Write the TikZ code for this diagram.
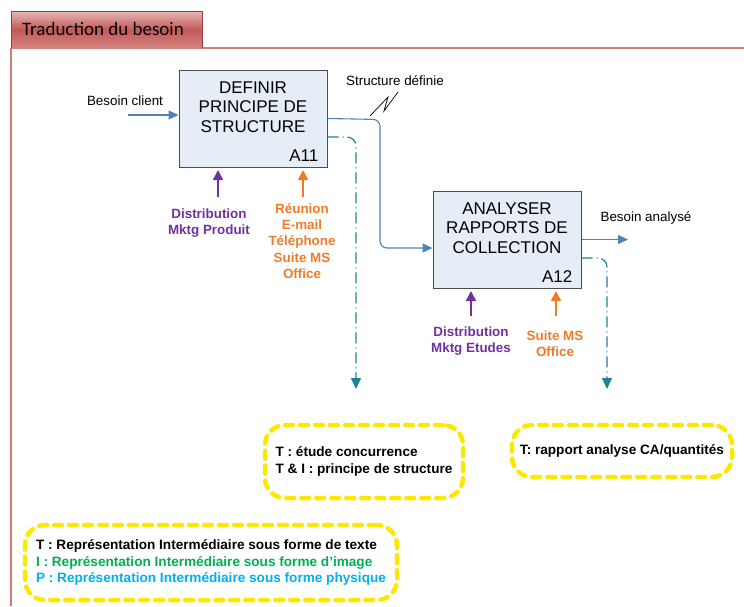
\documentclass[tikz,border=0pt]{standalone}
\usepackage{fontspec}
\setmainfont{Liberation Sans}
\newfontfamily\tabfont{Carlito}
\usetikzlibrary{arrows.meta}
\definecolor{idefblue}{RGB}{79,129,189}
\definecolor{boxfill}{RGB}{230,237,246}
\definecolor{frred}{RGB}{192,80,77}
\definecolor{mktgpurple}{RGB}{112,48,160}
\definecolor{toolorange}{RGB}{240,122,40}
\definecolor{outteal}{RGB}{30,130,152}
\definecolor{noteyellow}{RGB}{255,232,0}
\definecolor{repgreen}{RGB}{0,176,80}
\definecolor{repcyan}{RGB}{0,176,240}
\tikzset{
  activity/.style={draw=black!70, line width=1pt, fill=boxfill, minimum width=148pt, minimum height=97pt},
  acttext/.style={align=center, font=\fontsize{17}{19.5}\selectfont},
  flow/.style={idefblue, line width=1.1pt, -{Triangle[length=10pt,width=9pt]}},
  result/.style={outteal, line width=1.2pt, dash pattern=on 11pt off 4pt on 1pt off 4pt, rounded corners=9pt, -{Triangle[length=11pt,width=10pt]}},
  mech/.style={line width=1.6pt, -{Triangle[length=10pt,width=10pt]}},
  plain/.style={font=\fontsize{13.4}{16}\selectfont},
  mechlabel/.style={align=center, font=\bfseries\fontsize{13.4}{16.3}\selectfont},
  note/.style={draw=noteyellow, line width=4.5pt, dash pattern=on 8pt off 7pt, line cap=round, rounded corners=20pt, align=left, inner sep=0pt, font=\bfseries\fontsize{13.6}{16.5}\selectfont}
}
\begin{document}
\begin{tikzpicture}[x=1pt, y=-1pt]
  \useasboundingbox (0,0) rectangle (744,606);
  \draw[frred!75, line width=1.2pt] (202,48) -- (744,48);
  \draw[frred!75, line width=1.2pt] (11,48) -- (11,606);
  \shade[top color=frred!40, bottom color=frred!70, middle color=frred!95] (11,11) rectangle (202,48);
  \draw[frred!80!black, line width=0.8pt] (11,48) -- (11,11) -- (202,11) -- (202,48);
  \node at (103,29) [font=\tabfont\fontsize{19}{20}\selectfont] (title) {Traduction du besoin};

  \node[activity] (a11) at (253,118.5) {};
  \node[acttext] at ([yshift=11.5pt]a11.center) {DEFINIR\\PRINCIPE DE\\STRUCTURE};
  \node[above left, inner sep=0pt, font=\fontsize{17}{19}\selectfont] at ([xshift=-9pt,yshift=6pt]a11.south east) {A11};
  \node[activity] (a12) at (507,239.5) {};
  \node[acttext] at ([yshift=11.5pt]a12.center) {ANALYSER\\RAPPORTS DE\\COLLECTION};
  \node[above left, inner sep=0pt, font=\fontsize{17}{19}\selectfont] at ([xshift=-9pt,yshift=6pt]a12.south east) {A12};

  \coordinate (bc) at (128,115);
  \node at (125,101) [plain] (besoin) {Besoin client};
  \draw[flow] (bc) -- (bc -| a11.west);
  \coordinate (turn) at (380,119.5);
  \draw[flow, rounded corners=7pt] (a11.east) -- (turn) -- (turn |- 0,248) -- ([yshift=-8.5pt]a12.west);
  \node at (395,81) [plain] (sdef) {Structure définie};
  \draw[line width=0.7pt] (370,116) -- (388,97) -- (384,111) -- (398,92);
  \coordinate (bout) at (628,239.5);
  \draw[flow] (a12.east) -- (bout);
  \node at (646,218) [plain] (banal) {Besoin analysé};

  \coordinate (r11) at (356,389);
  \draw[result] ([yshift=-18.5pt]a11.east) -- (r11 |- 0,137) -- (r11);
  \coordinate (r12) at (607,389);
  \draw[result] ([yshift=-18.5pt]a12.east) -- (r12 |- 0,258) -- (r12);

  \node at (209,223) [mechlabel, mktgpurple] (m11) {Distribution\\Mktg Produit};
  \node at (302,241) [mechlabel, toolorange] (o11) {Réunion\\E-mail\\Téléphone\\Suite MS\\Office};
  \draw[mech, mktgpurple] (218,197) -- (218,170);
  \draw[mech, toolorange] (303,197) -- (303,170);
  \node at (471,341) [mechlabel, mktgpurple] (m12) {Distribution\\Mktg Etudes};
  \node at (555,343.5) [mechlabel, toolorange] (o12) {Suite MS\\Office};
  \draw[mech, mktgpurple] (471,316) -- (471,291);
  \draw[mech, toolorange] (556,316) -- (556,291);

  \node[note, minimum width=198pt, minimum height=73pt] (n11) at (364,461.5) {T : étude concurrence\\T \& I : principe de structure};
  \node[note, minimum width=220pt, minimum height=52pt] (n12) at (622,451) {T: rapport analyse CA/quantités};
  \node[note, minimum width=372pt, minimum height=75pt] (legend) at (211,562.5) {T : Représentation Intermédiaire sous forme de texte\\
    \textcolor{repgreen}{I : Représentation Intermédiaire sous forme d’image}\\
    \textcolor{repcyan}{P : Représentation Intermédiaire sous forme physique}};
\end{tikzpicture}
\end{document}
